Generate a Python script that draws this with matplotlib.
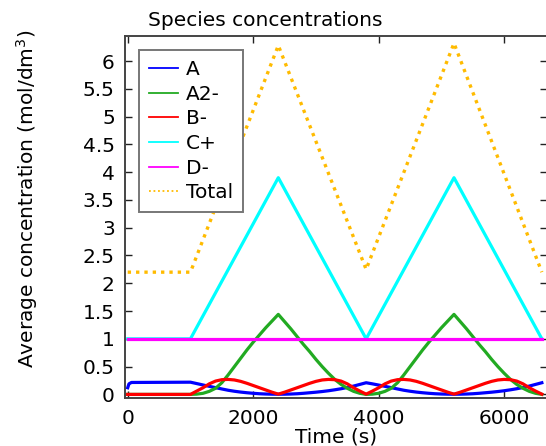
import matplotlib
matplotlib.use("Agg")
import matplotlib.pyplot as plt
from matplotlib.ticker import FuncFormatter

# ---- data ----
t = [0, 20, 60,
     1000, 1100, 1200, 1300, 1400, 1500, 1600, 1700, 1800, 1900, 2000, 2100, 2200, 2300, 2400,
     2500, 2600, 2700, 2800, 2900, 3000, 3100, 3200, 3300, 3400, 3500, 3600, 3700, 3800,
     3900, 4000, 4100, 4200, 4300, 4400, 4500, 4600, 4700, 4800, 4900, 5000, 5100, 5200,
     5300, 5400, 5500, 5600, 5700, 5800, 5900, 6000, 6100, 6200, 6300, 6400, 6500, 6600]

a_vals = [0.12, 0.19, 0.215,
          0.220, 0.195, 0.170, 0.145, 0.122, 0.098, 0.075, 0.057, 0.042, 0.030, 0.020, 0.012, 0.007, 0.004, 0.003,
          0.004, 0.007, 0.012, 0.020, 0.030, 0.040, 0.052, 0.066, 0.083, 0.102, 0.125, 0.150, 0.180, 0.210,
          0.190, 0.168, 0.145, 0.122, 0.098, 0.075, 0.057, 0.042, 0.030, 0.020, 0.012, 0.007, 0.004, 0.003,
          0.004, 0.007, 0.012, 0.020, 0.030, 0.040, 0.052, 0.066, 0.083, 0.102, 0.125, 0.150, 0.180, 0.210]

a2_vals = [0.0, 0.0, 0.0,
           0.0, 0.005, 0.02, 0.055, 0.11, 0.21, 0.35, 0.50, 0.65, 0.80, 0.94, 1.07, 1.20, 1.32, 1.44,
           1.31, 1.18, 1.04, 0.90, 0.77, 0.63, 0.50, 0.38, 0.27, 0.18, 0.11, 0.055, 0.02, 0.0,
           0.005, 0.02, 0.055, 0.11, 0.21, 0.35, 0.50, 0.65, 0.80, 0.94, 1.07, 1.20, 1.32, 1.44,
           1.31, 1.18, 1.04, 0.90, 0.77, 0.63, 0.50, 0.38, 0.27, 0.18, 0.11, 0.055, 0.02, 0.0]

b_vals = [0.0, 0.0, 0.0,
          0.0, 0.06, 0.12, 0.19, 0.24, 0.265, 0.27, 0.26, 0.235, 0.20, 0.16, 0.12, 0.08, 0.04, 0.005,
          0.04, 0.08, 0.12, 0.16, 0.20, 0.235, 0.26, 0.27, 0.265, 0.24, 0.19, 0.12, 0.06, 0.005,
          0.06, 0.12, 0.19, 0.24, 0.265, 0.27, 0.26, 0.235, 0.20, 0.16, 0.12, 0.08, 0.04, 0.005,
          0.04, 0.08, 0.12, 0.16, 0.20, 0.235, 0.26, 0.27, 0.265, 0.24, 0.19, 0.12, 0.06, 0.005]

t_lin = [0, 1000, 2400, 3800, 5200, 6600]
c_vals = [1.0, 1.0, 3.9, 1.0, 3.9, 1.0]
total_vals = [2.2, 2.2, 6.28, 2.25, 6.32, 2.2]

t_d = [0, 6600]
d_vals = [1.0, 1.0]

labels = ["A", "A2-", "B-", "C+", "D-", "Total"]
colors = ["#0000ff", "#22aa22", "#ff0000", "#00ffff", "#ff00ff", "#ffbb00"]

xticks = [0, 2000, 4000, 6000]
yticks = [0, 0.5, 1, 1.5, 2, 2.5, 3, 3.5, 4, 4.5, 5, 5.5, 6]

# ---- figure ----
W, H = 546, 446
fig = plt.figure(figsize=(W / 100, H / 100), dpi=100)
l_px, r_px, t_px, b_px = 124.5, 546.8, 36.0, 398.3
ax = fig.add_axes([l_px / W, 1 - b_px / H, (r_px - l_px) / W, (b_px - t_px) / H])

fs = 14.5
lw = 2.3
ax.plot(t, a_vals, color=colors[0], lw=lw, label=labels[0])
ax.plot(t, a2_vals, color=colors[1], lw=lw, label=labels[1])
ax.plot(t, b_vals, color=colors[2], lw=lw, label=labels[2])
ax.plot(t_lin, c_vals, color=colors[3], lw=lw, label=labels[3])
ax.plot(t_d, d_vals, color=colors[4], lw=lw, label=labels[4])
ax.plot(t_lin, total_vals, color=colors[5], lw=2.4, ls=(0, (1, 1.5)), label=labels[5])

ax.set_xlim(-51, 6679)
ax.set_ylim(-0.07, 6.45)
ax.set_xticks(xticks)
ax.set_yticks(yticks)
ax.yaxis.set_major_formatter(FuncFormatter(lambda v, p: "%g" % v))
ax.tick_params(direction="in", top=True, right=True, length=5, width=1,
               labelsize=fs, pad=7, color="#222222")
ax.tick_params(axis="x", pad=7.5)
for s in ax.spines.values():
    s.set_linewidth(1.4)
    s.set_color("#444444")

ax.set_xlabel("Time (s)", fontsize=fs, labelpad=0)
fig.text(27 / W, 1 - 199 / H, "Average concentration (mol/dm$^3$)",
         rotation=90, ha="center", va="center", fontsize=fs)
fig.text(265 / W, 1 - 20 / H, "Species concentrations", ha="center", va="center", fontsize=fs)

leg = ax.legend(loc="upper left", fontsize=fs, frameon=True, fancybox=False,
                edgecolor="#777777", framealpha=1, borderaxespad=0.7,
                handlelength=1.45, handletextpad=0.4, labelspacing=0.28,
                borderpad=0.5)
leg.get_frame().set_linewidth(1.4)
for h in leg.get_lines():
    h.set_linewidth(1.3)

fig.savefig("out.png", dpi=100)
